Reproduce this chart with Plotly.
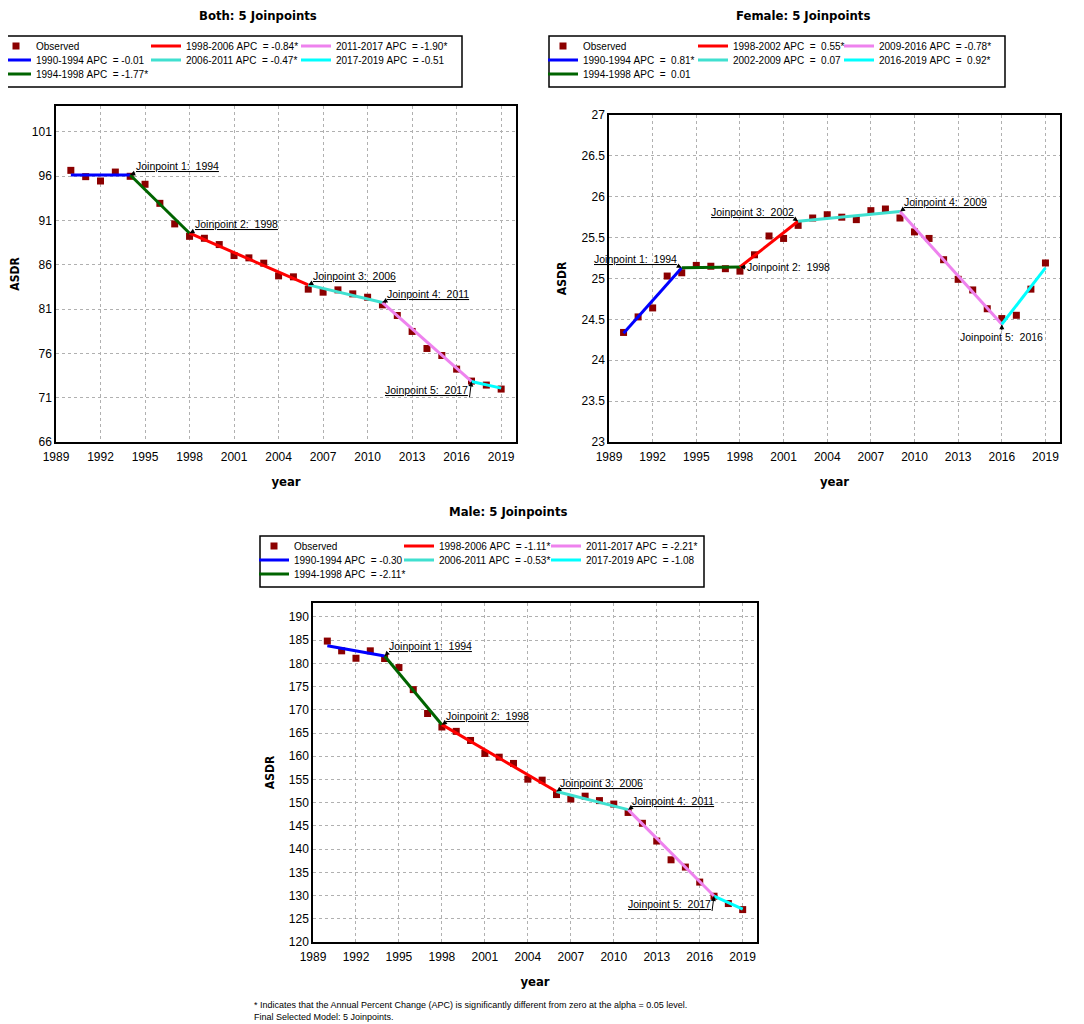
import plotly.graph_objects as go

# ---- data ----
years = list(range(1990, 2020))

both_obs = [96.64, 95.93, 95.44, 96.45, 95.97, 95.07, 92.92, 90.60, 89.20, 88.98,
            88.27, 87.03, 86.77, 86.17, 84.74, 84.63, 83.24, 82.90, 83.16, 82.71,
            82.33, 81.47, 80.27, 78.47, 76.55, 75.76, 74.22, 72.87, 72.42, 71.97]
both_jp_years = [1990, 1994, 1998, 2006, 2011, 2017, 2019]
both_fit = [96.12, 96.12, 89.55, 83.72, 81.73, 72.83, 72.08]
both_apc = ["-0.01", "-1.77*", "-0.84*", "-0.47*", "-1.90*", "-0.51"]

female_obs = [24.34, 24.53, 24.64, 25.03, 25.07, 25.16, 25.15, 25.12, 25.09, 25.29,
              25.52, 25.49, 25.65, 25.74, 25.78, 25.75, 25.72, 25.83, 25.85, 25.74,
              25.57, 25.49, 25.23, 24.99, 24.86, 24.63, 24.51, 24.55, 24.87, 25.19]
female_jp_years = [1990, 1994, 1998, 2002, 2009, 2016, 2019]
female_fit = [24.33, 25.13, 25.14, 25.70, 25.82, 24.44, 25.13]
female_apc = [" 0.81*", " 0.01", " 0.55*", " 0.07", "-0.78*", " 0.92*"]

male_obs = [184.8, 182.7, 181.1, 182.7, 181.05, 179.1, 174.35, 169.2, 166.3, 165.36,
            163.4, 160.6, 159.8, 158.45, 155.06, 154.85, 151.75, 150.8, 151.4, 150.45,
            149.7, 147.9, 145.56, 141.74, 137.7, 136.13, 132.9, 129.86, 128.28, 126.98]
male_jp_years = [1990, 1994, 1998, 2006, 2011, 2017, 2019]
male_fit = [183.8, 181.6, 166.8, 152.4, 148.5, 129.9, 127.06]
male_apc = ["-0.30", "-2.11*", "-1.11*", "-0.53*", "-2.21*", "-1.08"]

seg_colors = ["#0000ff", "#006400", "#ff0000", "#40e0d0", "#ee82ee", "#00ffff"]
obs_color = "#8b0000"

# page is 1084x1024, the html body adds an 8px margin
PAD = 8
W, H = 1084 - PAD, 1024 - PAD
FONT_N = "Liberation Sans, Arial"
FONT_B = "DejaVu Sans Condensed, DejaVu Sans, Verdana"


def px_x(p):
    return (p - PAD) / W


def px_y(p):
    return 1 - (p - PAD) / H


# layout of each panel, in pixels of the page
panels = [
    dict(title="Both: 5 Joinpoints", obs=both_obs, jp=both_jp_years, fit=both_fit, apc=both_apc,
         plot=(56, 106, 516, 442), yrange=[66, 103.9], dtick=5,
         title_pos=(258, 15.5), box=(2, 36, 462, 87), cols=[8, 158, 308],
         ann=[(5, -2, "left", "bottom"), (4, -2, "left", "bottom"), (4, -2, "left", "bottom"),
              (4, -2, "left", "bottom"), (-2, 16, "right", "bottom")]),
    dict(title="Female: 5 Joinpoints", obs=female_obs, jp=female_jp_years, fit=female_fit, apc=female_apc,
         plot=(609, 115, 1060, 442), yrange=[23, 27], dtick=0.5,
         title_pos=(803, 15.5), box=(549, 36, 1005, 87), cols=[8, 158, 304],
         ann=[(-4, -2, "right", "bottom"), (6, 0, "left", "middle"), (-3, -2, "right", "bottom"),
              (3, -2, "left", "bottom"), (0, 6, "center", "top")]),
    dict(title="Male: 5 Joinpoints", obs=male_obs, jp=male_jp_years, fit=male_fit, apc=male_apc,
         plot=(313, 603, 757, 942), yrange=[120, 193], dtick=5,
         title_pos=(508, 511), box=(260, 536, 704, 587), cols=[8, 153, 300],
         ann=[(3, -3, "left", "bottom"), (3, -2, "left", "bottom"), (3, -2, "left", "bottom"),
              (3, -2, "left", "bottom"), (-2, 15, "right", "bottom")]),
]

fig = go.Figure()
annotations = []
shapes = []
legends = {}
legend_n = 0

for i, p in enumerate(panels):
    ax_id = "" if i == 0 else str(i + 1)
    xref, yref = "x" + ax_id, "y" + ax_id
    l, t, r, b = p["plot"]
    bl, bt, br, bb = p["box"]

    def new_legend(k):
        global legend_n
        legend_n += 1
        name = "legend" if legend_n == 1 else "legend%d" % legend_n
        col = 0 if k < 3 else (1 if k < 5 else 2)
        row = k if k < 3 else (k - 3 if k < 5 else k - 5)
        cy = bt + 10 + row * 14
        legends[name] = dict(
            x=px_x(bl + p["cols"][col] - 14), y=px_y(cy - 14.5),
            xanchor="left", yanchor="top", bgcolor="rgba(0,0,0,0)", borderwidth=0,
            font=dict(family=FONT_N, size=10, color="black"), tracegroupgap=0)
        return name

    fig.add_trace(go.Scatter(
        x=years, y=p["obs"], mode="markers", name="Observed",
        marker=dict(symbol="square", size=7, color=obs_color),
        xaxis=xref, yaxis=yref, legend=new_legend(0)))

    for s in range(len(p["jp"]) - 1):
        label = "%d-%d APC  = %s" % (p["jp"][s], p["jp"][s + 1], p["apc"][s])
        fig.add_trace(go.Scatter(
            x=p["jp"][s:s + 2], y=p["fit"][s:s + 2], mode="lines",
            name=label.replace(" ", "\u00a0"),
            line=dict(color=seg_colors[s], width=3),
            xaxis=xref, yaxis=yref, legend=new_legend(s + 1)))

    # joinpoint callouts
    for j in range(1, len(p["jp"]) - 1):
        dx, dy, xa, ya = p["ann"][j - 1]
        underline = ya == "bottom"
        txt = "Joinpoint %d:\u00a0 %d" % (j, p["jp"][j])
        annotations.append(dict(
            x=p["jp"][j], y=p["fit"][j], xref=xref, yref=yref,
            text="<u>%s</u>" % txt if underline else txt,
            showarrow=True, ax=dx, ay=dy, xanchor=xa, yanchor=ya,
            arrowhead=2, arrowsize=1, arrowwidth=1, arrowcolor="black",
            borderpad=0, font=dict(family=FONT_N, size=10.5, color="black")))

    annotations.append(dict(
        x=px_x(p["title_pos"][0]), y=px_y(p["title_pos"][1]), xref="paper", yref="paper",
        text="<b>%s</b>" % p["title"], showarrow=False, xanchor="center", yanchor="middle",
        font=dict(family=FONT_B, size=13, color="black")))

    shapes.append(dict(type="rect", xref="paper", yref="paper",
                       x0=px_x(bl), x1=px_x(br), y0=px_y(bb), y1=px_y(bt),
                       line=dict(color="black", width=1.5)))

    axis_common = dict(showline=True, mirror=True, linecolor="black", linewidth=1.5,
                       showgrid=True, gridcolor="#b0b0b0", griddash="dot", gridwidth=1,
                       zeroline=False, ticks="", tickfont=dict(family=FONT_N, size=12, color="black"))
    fig.update_layout({
        "xaxis" + ax_id: dict(domain=[px_x(l), px_x(r)], range=[1989, 2020], tick0=1989, dtick=3,
                              anchor=yref, ticklabelstandoff=3,
                              title=dict(text="<b>year</b>", standoff=14,
                                         font=dict(family=FONT_B, size=13, color="black")),
                              **axis_common),
        "yaxis" + ax_id: dict(domain=[px_y(b), px_y(t)], range=p["yrange"], tick0=p["yrange"][0],
                              dtick=p["dtick"], anchor=xref,
                              title=dict(text="<b>ASDR</b>", standoff=12,
                                         font=dict(family=FONT_B, size=12, color="black")),
                              **axis_common),
    })

annotations.append(dict(
    x=px_x(252), y=px_y(1005), xref="paper", yref="paper", showarrow=False,
    xanchor="left", yanchor="middle", font=dict(family=FONT_N, size=9, color="black"),
    text="* Indicates that the Annual Percent Change (APC) is significantly different from zero at the alpha = 0.05 level."))
annotations.append(dict(
    x=px_x(252), y=px_y(1017), xref="paper", yref="paper", showarrow=False,
    xanchor="left", yanchor="middle", font=dict(family=FONT_N, size=9, color="black"),
    text="Final Selected Model: 5 Joinpoints."))

fig.update_layout(
    width=W, height=H, margin=dict(l=0, r=0, t=0, b=0, autoexpand=False),
    paper_bgcolor="white", plot_bgcolor="white",
    annotations=annotations, shapes=shapes, showlegend=True,
    **legends)

fig.write_html("out.html")
